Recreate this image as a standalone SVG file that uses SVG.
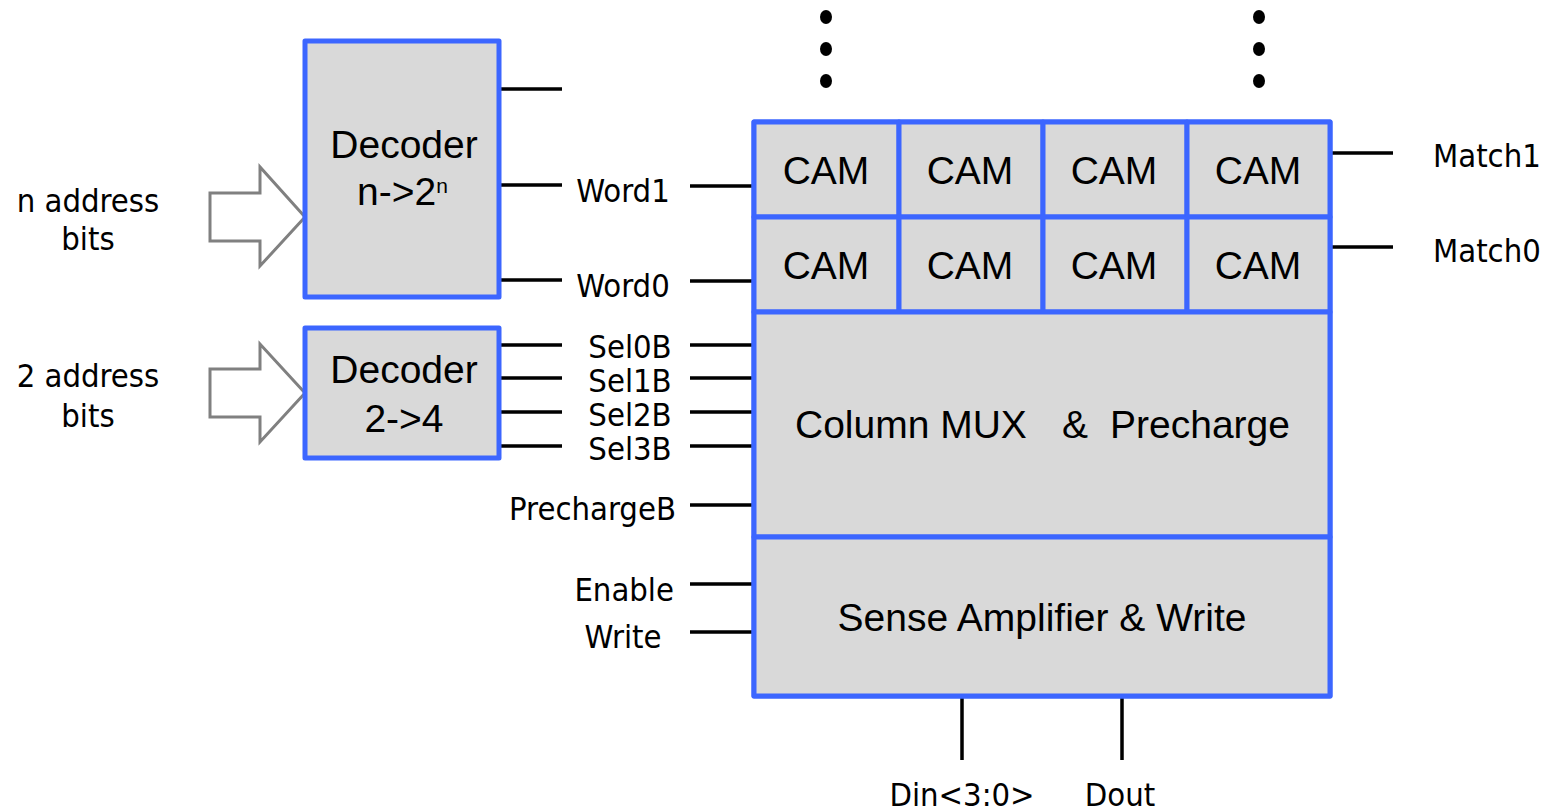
<svg xmlns="http://www.w3.org/2000/svg" width="1544" height="812" viewBox="0 0 1544 812">
<style>
.blk{fill:#D9D9D9;stroke:#3C66FF;stroke-width:5;stroke-linejoin:round}
.ar{fill:none;stroke:#808080;stroke-width:3}
.w{stroke:#000;stroke-width:3.5;fill:none}
.a{font-family:"Liberation Sans",Arial,sans-serif;font-size:39px;fill:#000}
.l{font-family:"DejaVu Sans Condensed","DejaVu Sans",sans-serif;font-size:32.5px;fill:#000}
.m{text-anchor:middle}
</style>
<rect width="1544" height="812" fill="#fff"/>
<g id="dots">
<ellipse cx="826" cy="17" rx="6" ry="7"/><ellipse cx="826" cy="49" rx="6" ry="7"/><ellipse cx="826" cy="81" rx="6" ry="7"/>
<ellipse cx="1259" cy="17" rx="6" ry="7"/><ellipse cx="1259" cy="49" rx="6" ry="7"/><ellipse cx="1259" cy="81" rx="6" ry="7"/>
</g>
<g id="connectors">
<path class="w" d="M499 89H562M499 185H562M499 280H562M690 186H754M690 281H754"/>
<path class="w" d="M499 345H562M499 378H562M499 412H562M499 446H562M690 345H754M690 378H754M690 412H754M690 446H754"/>
<path class="w" d="M690 505H754M690 584H754M690 632H754"/>
<path class="w" d="M1330 153H1393M1330 247H1393"/>
<path class="w" d="M962 696V760M1122 696V760"/>
</g>
<g id="arrow1"><path class="ar" d="M210 193H260V167L305 217L260 266V241H210Z"/></g>
<g id="arrow2"><path class="ar" d="M210 369H260V344L305 393L260 442V417H210Z"/></g>
<g id="addr-n">
<text class="l m" x="88" y="212" font-size="33">n address</text>
<text class="l m" x="88" y="250" font-size="33">bits</text>
</g>
<g id="addr-2">
<text class="l m" x="88" y="387" font-size="33">2 address</text>
<text class="l m" x="88" y="427" font-size="33">bits</text>
</g>
<g id="decoder1">
<rect class="blk" x="305" y="41" width="194" height="256"/>
<text class="a m" x="404" y="158">Decoder</text>
<text class="a" x="357" y="205">n-&gt;2<tspan font-size="21" dy="-12">n</tspan></text>
</g>
<g id="decoder2">
<rect class="blk" x="305" y="328" width="194" height="130"/>
<text class="a m" x="404" y="383">Decoder</text>
<text class="a m" x="404" y="432">2-&gt;4</text>
</g>
<g id="labels">
<text class="l m" x="623" y="202">Word1</text>
<text class="l m" x="623" y="297">Word0</text>
<text class="l m" x="630" y="358" font-size="32">Sel0B</text>
<text class="l m" x="630" y="392" font-size="32">Sel1B</text>
<text class="l m" x="630" y="426" font-size="32">Sel2B</text>
<text class="l m" x="630" y="460" font-size="32">Sel3B</text>
<text class="l" x="676" y="520" text-anchor="end">PrechargeB</text>
<text class="l" x="674" y="601" text-anchor="end">Enable</text>
<text class="l m" x="623" y="648">Write</text>
<text class="l" x="1433" y="167">Match1</text>
<text class="l" x="1433" y="262">Match0</text>
<text class="l m" x="962" y="806">Din&lt;3:0&gt;</text>
<text class="l m" x="1120" y="806">Dout</text>
</g>
<g id="cam-array">
<rect class="blk" x="754" y="122" width="576" height="574"/>
<rect class="blk" x="754" y="122" width="145" height="95"/>
<rect class="blk" x="899" y="122" width="144" height="95"/>
<rect class="blk" x="1043" y="122" width="144" height="95"/>
<rect class="blk" x="1187" y="122" width="143" height="95"/>
<rect class="blk" x="754" y="217" width="145" height="95"/>
<rect class="blk" x="899" y="217" width="144" height="95"/>
<rect class="blk" x="1043" y="217" width="144" height="95"/>
<rect class="blk" x="1187" y="217" width="143" height="95"/>
<rect class="blk" x="754" y="312" width="576" height="225"/>
<rect class="blk" x="754" y="537" width="576" height="159"/>
<text class="a m" x="826" y="184">CAM</text>
<text class="a m" x="970" y="184">CAM</text>
<text class="a m" x="1114" y="184">CAM</text>
<text class="a m" x="1258" y="184">CAM</text>
<text class="a m" x="826" y="279">CAM</text>
<text class="a m" x="970" y="279">CAM</text>
<text class="a m" x="1114" y="279">CAM</text>
<text class="a m" x="1258" y="279">CAM</text>
<text class="a" x="795" y="438">Column MUX</text>
<text class="a" x="1062" y="438">&amp;</text>
<text class="a" x="1110" y="438">Precharge</text>
<text class="a m" x="1042" y="631">Sense Amplifier &amp; Write</text>
</g>
</svg>
